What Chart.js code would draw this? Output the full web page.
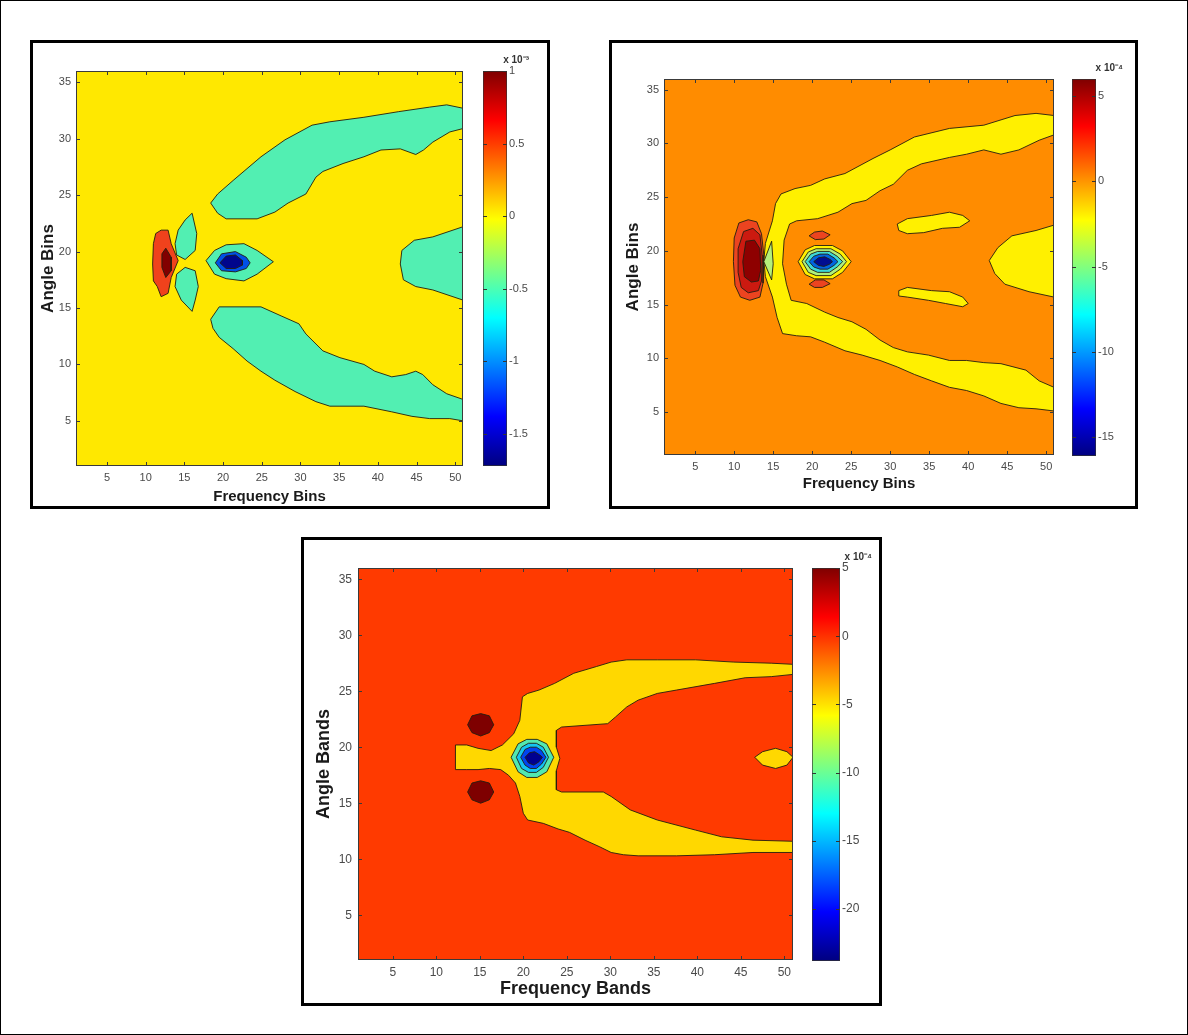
<!DOCTYPE html>
<html>
<head>
<meta charset="utf-8">
<script src="https://cdn.jsdelivr.net/npm/chart.js@4.4.1/dist/chart.umd.min.js"></script>
<style>
html, body { margin: 0; padding: 0; background: #fff; }
#page { position: relative; width: 1188px; height: 1035px; overflow: hidden; }
#outline { position: absolute; left: 0; top: 0; width: 1188px; height: 1035px; box-sizing: border-box; border: 1px solid #000; }
.frame { position: absolute; box-sizing: border-box; border: 3px solid #000; }
canvas { position: absolute; }
</style>
</head>
<body>
<div id="page">
  <div id="outline"></div>
  <div class="frame" style="left:30px;top:40px;width:520px;height:469px"></div>
  <div class="frame" style="left:609px;top:40px;width:529px;height:469px"></div>
  <div class="frame" style="left:301px;top:537px;width:581px;height:469px"></div>
</div>
<script>
// tick values
const freqTicks = [5, 10, 15, 20, 25, 30, 35, 40, 45, 50];
const angleTicks = [5, 10, 15, 20, 25, 30, 35];
const cbTicks1 = [1, 0.5, 0, -0.5, -1, -1.5];
const cbRange1 = [-1.72, 1];
const cbTicks2 = [5, 0, -5, -10, -15];
const cbRange2 = [-16.1, 6];
const cbTicks3 = [5, 0, -5, -10, -15, -20];
const cbRange3 = [-23.8, 5];

// panel 1 contours (frequency bin, angle bin)
const p1UpperBand = [[18.4,24.3],[19.3,25.1],[21.3,26.3],[24.9,28.4],[28.0,29.9],[31.5,31.2],[33.8,31.5],[38.2,31.9],[42.7,32.4],[46.7,32.8],[48.9,33.0],[51,32.7],[51,30.9],[49.3,30.6],[47.1,29.7],[45.9,29.0],[44.9,28.6],[42.9,29.1],[40.4,29.0],[38.2,28.4],[35.5,27.8],[32.9,27.1],[32.0,26.6],[30.7,25.1],[28.4,24.3],[26.7,23.5],[24.4,22.9],[20.4,22.9],[19.3,23.4]];
const p1LowerBand = [[18.4,14.0],[19.5,15.1],[24.9,15.1],[27.5,14.3],[29.8,13.6],[30.7,12.7],[32.9,11.2],[35.1,10.6],[38.2,10.0],[39.6,9.4],[41.8,8.9],[43.6,9.1],[44.9,9.4],[45.8,9.1],[47.1,8.2],[48.9,7.4],[51,6.9],[51,5.0],[49.3,5.2],[46.7,5.2],[44.4,5.4],[41.8,5.8],[38.2,6.3],[33.8,6.3],[32.0,6.7],[29.3,7.6],[26.7,8.6],[24.9,9.4],[23.1,10.3],[21.3,11.4],[19.5,12.4],[18.7,13.2]];
const p1RightLobe = [[51,22.2],[47.1,21.3],[44.7,21.0],[43.1,20.1],[42.9,18.9],[43.3,17.5],[44.9,16.9],[47.1,16.6],[51,15.7]];
const p1LobeUp = [[16.0,23.4],[16.6,21.6],[16.4,20.1],[15.1,19.3],[14.0,19.7],[13.8,20.7],[14.2,21.9],[15.1,22.8]];
const p1LobeDown = [[15.1,18.6],[16.4,18.3],[16.8,16.9],[16.4,15.7],[16.0,14.7],[14.6,15.7],[13.8,16.9],[14.0,18.0]];
const p1Red = [[12.0,21.9],[12.9,21.9],[13.3,20.7],[14.2,19.2],[13.3,17.7],[12.9,16.3],[12.0,16.0],[11.5,16.9],[11.0,17.4],[10.9,18.9],[11.0,20.7],[11.3,21.6]];
const p1RedCore = [[12.6,20.3],[13.3,19.5],[13.3,18.3],[12.6,17.7],[12.1,18.6],[12.1,19.8]];
const p1Eye = [[17.8,19.2],[18.9,20.1],[20.4,20.6],[22.7,20.7],[24.4,20.1],[26.5,19.1],[24.4,18.0],[22.7,17.4],[20.4,17.6],[18.9,18.0]];
const p1EyeBlue = [[19.0,19.0],[19.8,19.8],[21.6,20.0],[23.0,19.5],[23.5,19.0],[23.0,18.5],[21.6,18.2],[19.8,18.3]];
const p1EyeCore = [[19.6,19.0],[20.4,19.6],[21.6,19.7],[22.5,19.2],[22.5,18.8],[21.6,18.5],[20.4,18.5]];

// panel 2 contours
const p2Band = [[51,32.6],[48.7,32.8],[46.0,32.6],[42.0,31.7],[37.6,31.4],[33.1,30.6],[30.0,29.4],[27.8,28.6],[24.2,27.2],[21.6,26.7],[19.8,26.1],[17.8,25.8],[16.0,25.3],[15.3,24.4],[14.9,22.8],[14.0,20.7],[13.8,19.1],[14.0,17.6],[14.9,15.7],[15.5,13.8],[16.2,12.3],[18.0,12.1],[19.8,12.0],[21.6,11.5],[24.2,10.7],[26.4,10.3],[28.7,9.8],[30.9,9.2],[33.1,8.5],[35.3,7.9],[37.6,7.3],[39.8,7.0],[42.0,6.5],[44.2,5.8],[46.5,5.4],[48.7,5.3],[51,5.1],[51,7.3],[49.1,7.9],[47.4,8.9],[44.2,9.5],[42.0,9.6],[39.8,9.8],[37.6,9.8],[34.9,10.3],[32.2,10.6],[30.4,11.0],[28.7,11.7],[26.9,12.7],[25.1,13.4],[23.3,13.8],[21.6,14.3],[19.3,15.1],[17.3,15.4],[16.7,16.9],[16.2,18.8],[16.4,21.0],[17.1,22.5],[18.0,22.8],[20.7,23.0],[23.3,23.6],[25.1,24.4],[26.9,24.7],[28.7,25.6],[30.4,26.2],[32.2,27.5],[34.0,28.1],[37.6,28.7],[39.8,29.0],[42.0,29.4],[44.2,29.0],[46.5,29.4],[49.1,30.3],[51,30.8]];
const p2IslandUp = [[30.9,22.5],[32.2,23.0],[35.3,23.3],[37.6,23.6],[39.3,23.3],[40.2,22.8],[38.9,22.2],[36.7,22.1],[34.3,21.7],[32.2,21.6],[31.1,21.9]];
const p2IslandDown = [[31.1,16.3],[32.2,16.6],[35.3,16.3],[37.6,16.2],[39.3,15.7],[40.0,15.1],[39.3,14.8],[37.1,15.1],[34.9,15.4],[32.2,15.7],[31.1,15.8]];
const p2RightLobe = [[51,22.4],[48.7,21.9],[45.6,21.4],[43.8,20.3],[42.7,19.1],[43.4,17.9],[44.7,16.9],[47.8,16.2],[51,15.7]];
const p2Red = [[10.6,22.6],[11.8,22.9],[12.9,22.7],[13.5,21.6],[13.8,19.6],[13.7,17.0],[13.3,15.7],[12.0,15.4],[10.8,15.7],[10.1,16.8],[9.9,19.0],[10.0,21.2]];
const p2RedMid = [[11.2,21.8],[12.4,22.1],[13.3,21.5],[13.6,19.5],[13.5,17.2],[13.1,16.3],[11.8,16.1],[10.9,16.6],[10.5,18.0],[10.5,20.2]];
const p2RedCore = [[11.5,20.9],[12.6,21.0],[13.3,20.2],[13.4,18.2],[13.1,17.2],[12.2,17.1],[11.3,17.6],[11.1,19.0]];
const p2Wedge = [[13.8,19.0],[14.8,20.9],[15.0,18.8],[14.8,17.3]];
const p2Eye = [[18.2,19.0],[19.1,20.1],[20.3,20.5],[22.6,20.5],[23.9,20.0],[25.0,19.0],[23.9,18.0],[22.6,17.4],[20.3,17.4],[19.1,17.8]];
const p2EyeGreen = [[18.7,19.0],[19.5,19.9],[20.5,20.2],[22.4,20.2],[23.6,19.7],[24.4,19.0],[23.6,18.3],[22.4,17.7],[20.5,17.7],[19.5,18.0]];
const p2EyeTeal = [[19.1,19.0],[19.8,19.7],[20.7,19.95],[22.2,19.95],[23.2,19.5],[23.9,19.0],[23.2,18.5],[22.2,18.0],[20.7,18.0],[19.8,18.3]];
const p2EyeBlue = [[19.6,19.0],[20.2,19.5],[21.0,19.7],[22.0,19.7],[22.8,19.35],[23.3,19.0],[22.8,18.65],[22.0,18.3],[21.0,18.3],[20.2,18.5]];
const p2EyeCore = [[20.2,19.0],[20.8,19.35],[21.6,19.45],[22.3,19.2],[22.6,19.0],[22.2,18.75],[21.5,18.55],[20.8,18.65]];
const p2SpotUp = [[19.6,21.4],[20.3,21.75],[21.3,21.85],[22.3,21.5],[21.5,21.1],[20.4,21.05]];
const p2SpotDown = [[19.6,16.9],[20.4,17.3],[21.5,17.3],[22.3,16.95],[21.3,16.6],[20.3,16.6]];

// panel 3 contours (frequency band, angle band)
const p3Fork = [[12.2,20.2],[13.5,20.2],[14.8,19.9],[16.3,19.7],[17.6,20.2],[18.9,21.2],[19.6,22.4],[19.9,24.5],[20.5,24.8],[21.8,25.1],[23.6,25.7],[25.8,26.6],[28.4,27.2],[30.1,27.6],[31.9,27.8],[35.4,27.8],[39.8,27.8],[44.2,27.6],[48.5,27.5],[51,27.4],[51,26.5],[48.5,26.3],[45.5,26.2],[42.0,25.7],[37.6,25.1],[35.4,24.8],[33.2,24.2],[31.9,23.6],[30.6,22.7],[29.7,22.1],[24.4,21.8],[23.8,21.5],[23.8,20.0],[24.2,19.0],[23.8,17.9],[23.8,16.2],[24.4,16.0],[29.2,16.0],[30.1,15.6],[32.3,14.4],[35.4,13.5],[39.8,12.6],[42.8,12.0],[46.4,11.7],[51,11.6],[51,10.6],[46.4,10.6],[42.0,10.4],[37.6,10.3],[33.2,10.3],[31.5,10.4],[30.1,10.6],[28.8,11.1],[27.1,11.7],[25.3,12.4],[24.0,12.7],[22.3,13.2],[20.5,13.5],[20.0,14.1],[19.6,15.6],[19.1,16.8],[18.3,17.5],[17.4,18.0],[16.1,18.1],[14.8,18.0],[13.5,18.0],[12.2,18.0]];
const p3RightBlob = [[46.6,19.1],[47.5,19.6],[49.0,19.9],[50.3,19.6],[51,19.1],[50.3,18.4],[49.0,18.1],[47.5,18.4]];
const p3SpotUp = [[13.6,22.0],[14.1,22.8],[15.1,23.0],[16.1,22.8],[16.6,22.0],[16.1,21.3],[15.1,21.0],[14.1,21.3]];
const p3SpotDown = [[13.6,16.0],[14.1,16.8],[15.1,17.0],[16.1,16.8],[16.6,16.0],[16.1,15.3],[15.1,15.0],[14.1,15.3]];
const p3Eye = [[18.6,19.1],[19.4,20.3],[20.4,20.7],[21.6,20.7],[22.7,20.3],[23.5,19.1],[22.7,17.8],[21.6,17.3],[20.4,17.3],[19.4,17.8]];
const p3EyeCyan = [[19.2,19.1],[19.8,20.0],[20.6,20.35],[21.5,20.35],[22.3,20.0],[22.9,19.1],[22.3,18.2],[21.5,17.75],[20.6,17.75],[19.8,18.1]];
const p3EyeBlue = [[19.7,19.1],[20.2,19.8],[20.8,20.0],[21.5,20.0],[22.1,19.7],[22.6,19.1],[22.1,18.5],[21.5,18.1],[20.8,18.1],[20.2,18.4]];
const p3EyeCore = [[20.2,19.1],[20.7,19.5],[21.3,19.6],[21.9,19.3],[22.2,19.1],[21.8,18.7],[21.2,18.4],[20.6,18.6]];

const FONT = "'Liberation Sans', Arial, sans-serif";
const TICK = '#4a4a4a';
const LINE = 'rgba(35,30,15,0.9)';
const JET = [[0, '#00007f'], [0.125, '#0000ff'], [0.375, '#00ffff'], [0.625, '#ffff00'], [0.875, '#ff0000'], [1, '#7f0000']];

function place(id, left, top, w, h) {
  const c = document.createElement('canvas');
  c.id = id; c.width = w; c.height = h;
  c.style.left = left + 'px'; c.style.top = top + 'px';
  document.getElementById('page').appendChild(c);
  return c;
}

// area background, inward tick marks and box like matlab axes
const frameTicks = {
  id: 'frameTicks',
  beforeDatasetsDraw(chart, args, o) {
    if (!o.bg) return;
    const a = chart.chartArea, ctx = chart.ctx;
    ctx.save();
    ctx.fillStyle = o.bg;
    ctx.fillRect(a.left, a.top, a.width, a.height);
    ctx.restore();
  },
  afterDatasetsDraw(chart, args, o) {
    const {ctx, chartArea: a, scales} = chart;
    const len = o.len;
    ctx.save();
    ctx.strokeStyle = o.color;
    ctx.lineWidth = 1;
    ctx.beginPath();
    if (o.xTicks) {
      scales.x.ticks.forEach(t => {
        const px = Math.round(scales.x.getPixelForValue(t.value)) + 0.5;
        ctx.moveTo(px, a.bottom); ctx.lineTo(px, a.bottom - len);
        ctx.moveTo(px, a.top); ctx.lineTo(px, a.top + len);
      });
    }
    scales.y.ticks.forEach(t => {
      const py = Math.round(scales.y.getPixelForValue(t.value)) + 0.5;
      ctx.moveTo(a.left, py); ctx.lineTo(a.left + len, py);
      ctx.moveTo(a.right, py); ctx.lineTo(a.right - len, py);
    });
    ctx.stroke();
    if (o.box) ctx.strokeRect(Math.round(a.left) + 0.5, Math.round(a.top) + 0.5, Math.round(a.width) - 1, Math.round(a.height) - 1);
    ctx.restore();
  }
};

function jetGradient(chart) {
  const a = chart.chartArea;
  if (!a) return null;
  const g = chart.ctx.createLinearGradient(0, a.bottom, 0, a.top);
  JET.forEach(([t, col]) => g.addColorStop(t, col));
  return g;
}

function contourChart(canvas, p) {
  const datasets = p.layers.map((l, i) => ({
    data: l[0].concat([l[0][0]]).map(([x, y]) => ({x, y})),
    showLine: true,
    fill: 'shape',
    backgroundColor: l[1],
    borderColor: LINE,
    borderWidth: 1,
    pointRadius: 0,
    pointHoverRadius: 0,
    tension: 0,
    order: -i
  }));
  return new Chart(canvas, {
    type: 'scatter',
    data: { datasets },
    options: {
      responsive: false,
      animation: false,
      events: [],
      layout: { padding: { left: 0, top: 14, right: 10, bottom: 0 } },
      plugins: {
        legend: { display: false },
        tooltip: { enabled: false },
        frameTicks: { bg: p.bg, xTicks: true, box: true, len: 4, color: '#3a3a3a' }
      },
      scales: {
        x: {
          type: 'linear', min: 1, max: 51,
          afterBuildTicks: s => { s.ticks = freqTicks.map(v => ({ value: v })); },
          afterFit: s => { s.height = 45; },
          grid: { display: false, drawTicks: false }, border: { display: false },
          ticks: { padding: p.tickPad, color: TICK, maxRotation: 0, font: { family: FONT, size: p.tickSize } },
          title: { display: true, text: p.xTitle, color: '#1a1a1a', font: { family: FONT, size: p.xTitleSize, weight: 'bold' }, padding: { top: 0, bottom: p.xTitlePad } }
        },
        y: {
          type: 'linear', min: 1, max: 36,
          afterBuildTicks: s => { s.ticks = angleTicks.map(v => ({ value: v })); },
          afterFit: s => { s.width = 50; },
          grid: { display: false, drawTicks: false }, border: { display: false },
          ticks: { padding: p.yTickPad, color: TICK, font: { family: FONT, size: p.tickSize } },
          title: { display: true, text: p.yTitle, color: '#1a1a1a', font: { family: FONT, size: p.yTitleSize, weight: 'bold' }, padding: { top: p.yTitlePad, bottom: 0 } }
        }
      }
    },
    plugins: [frameTicks]
  });
}

function colorbarChart(canvas, c) {
  return new Chart(canvas, {
    type: 'bar',
    data: {
      labels: [''],
      datasets: [{
        data: [[c.range[0], c.range[1]]],
        backgroundColor: ctx => jetGradient(ctx.chart),
        borderColor: '#333',
        borderWidth: 1,
        borderSkipped: false,
        barPercentage: 1,
        categoryPercentage: 1
      }]
    },
    options: {
      responsive: false,
      animation: false,
      events: [],
      layout: { padding: { left: 0, top: 0, right: 0, bottom: 12 } },
      plugins: {
        legend: { display: false },
        tooltip: { enabled: false },
        title: { display: true, text: c.exp, align: 'end', color: '#333', font: { family: FONT, size: 10 }, padding: { top: 3, bottom: 5 } },
        frameTicks: { xTicks: false, box: false, len: 4, color: '#333' }
      },
      scales: {
        x: { display: false },
        y: {
          position: 'right', min: c.range[0], max: c.range[1],
          afterBuildTicks: s => { s.ticks = c.ticks.map(v => ({ value: v })); },
          afterFit: s => { s.width = c.axisW; },
          grid: { display: false, drawTicks: false }, border: { display: false },
          ticks: { padding: 2, color: TICK, font: { family: FONT, size: c.tickSize }, callback: v => String(v) }
        }
      }
    },
    plugins: [frameTicks]
  });
}

// panel 1
contourChart(place('m1', 26, 57, 447, 454), {
  bg: '#ffe800',
  layers: [
    [p1UpperBand, '#52efb2'], [p1LowerBand, '#52efb2'], [p1RightLobe, '#52efb2'],
    [p1LobeUp, '#52efb2'], [p1LobeDown, '#52efb2'],
    [p1Red, '#f0421c'], [p1RedCore, '#820000'],
    [p1Eye, '#52efb2'], [p1EyeBlue, '#0052e6'], [p1EyeCore, '#00068c']
  ],
  xTitle: 'Frequency Bins', yTitle: 'Angle Bins',
  xTitleSize: 15, yTitleSize: 17, xTitlePad: 5.5, yTitlePad: 11.8,
  tickSize: 11, tickPad: 5.5, yTickPad: 5
});
colorbarChart(place('b1', 483, 51, 46, 427), { range: cbRange1, ticks: cbTicks1, exp: 'x 10⁻³', axisW: 22, tickSize: 11 });

// panel 2
contourChart(place('m2', 614, 65, 450, 435), {
  bg: '#ff8c00',
  layers: [
    [p2Band, '#fff000'], [p2IslandUp, '#fff000'], [p2IslandDown, '#fff000'], [p2RightLobe, '#fff000'],
    [p2Red, '#ec4420'], [p2RedMid, '#cc1a10'], [p2RedCore, '#8e0000'],
    [p2Wedge, '#b4f07a'],
    [p2Eye, '#fff000'], [p2EyeGreen, '#b0f07a'], [p2EyeTeal, '#3cd8d8'], [p2EyeBlue, '#0064e0'], [p2EyeCore, '#000c90'],
    [p2SpotUp, '#ec4420'], [p2SpotDown, '#ec4420']
  ],
  xTitle: 'Frequency Bins', yTitle: 'Angle Bins',
  xTitleSize: 15, yTitleSize: 17, xTitlePad: 7, yTitlePad: 8.8,
  tickSize: 11, tickPad: 5.5, yTickPad: 5
});
colorbarChart(place('b2', 1072, 59, 51, 409), { range: cbRange2, ticks: cbTicks2, exp: 'x 10⁻⁴', axisW: 27, tickSize: 11 });

// panel 3
contourChart(place('m3', 308, 554, 495, 451), {
  bg: '#ff3a00',
  layers: [
    [p3Fork, '#ffd800'], [p3RightBlob, '#ffd800'],
    [p3SpotUp, '#7e0000'], [p3SpotDown, '#7e0000'],
    [p3Eye, '#52e8b0'], [p3EyeCyan, '#14c4f0'], [p3EyeBlue, '#0044f0'], [p3EyeCore, '#000090']
  ],
  xTitle: 'Frequency Bands', yTitle: 'Angle Bands',
  xTitleSize: 18, yTitleSize: 18, xTitlePad: 5.2, yTitlePad: 5.2,
  tickSize: 12, tickPad: 5, yTickPad: 6
});
colorbarChart(place('b3', 812, 548, 60, 425), { range: cbRange3, ticks: cbTicks3, exp: 'x 10⁻⁴', axisW: 32, tickSize: 12 });
</script>
</body>
</html>
